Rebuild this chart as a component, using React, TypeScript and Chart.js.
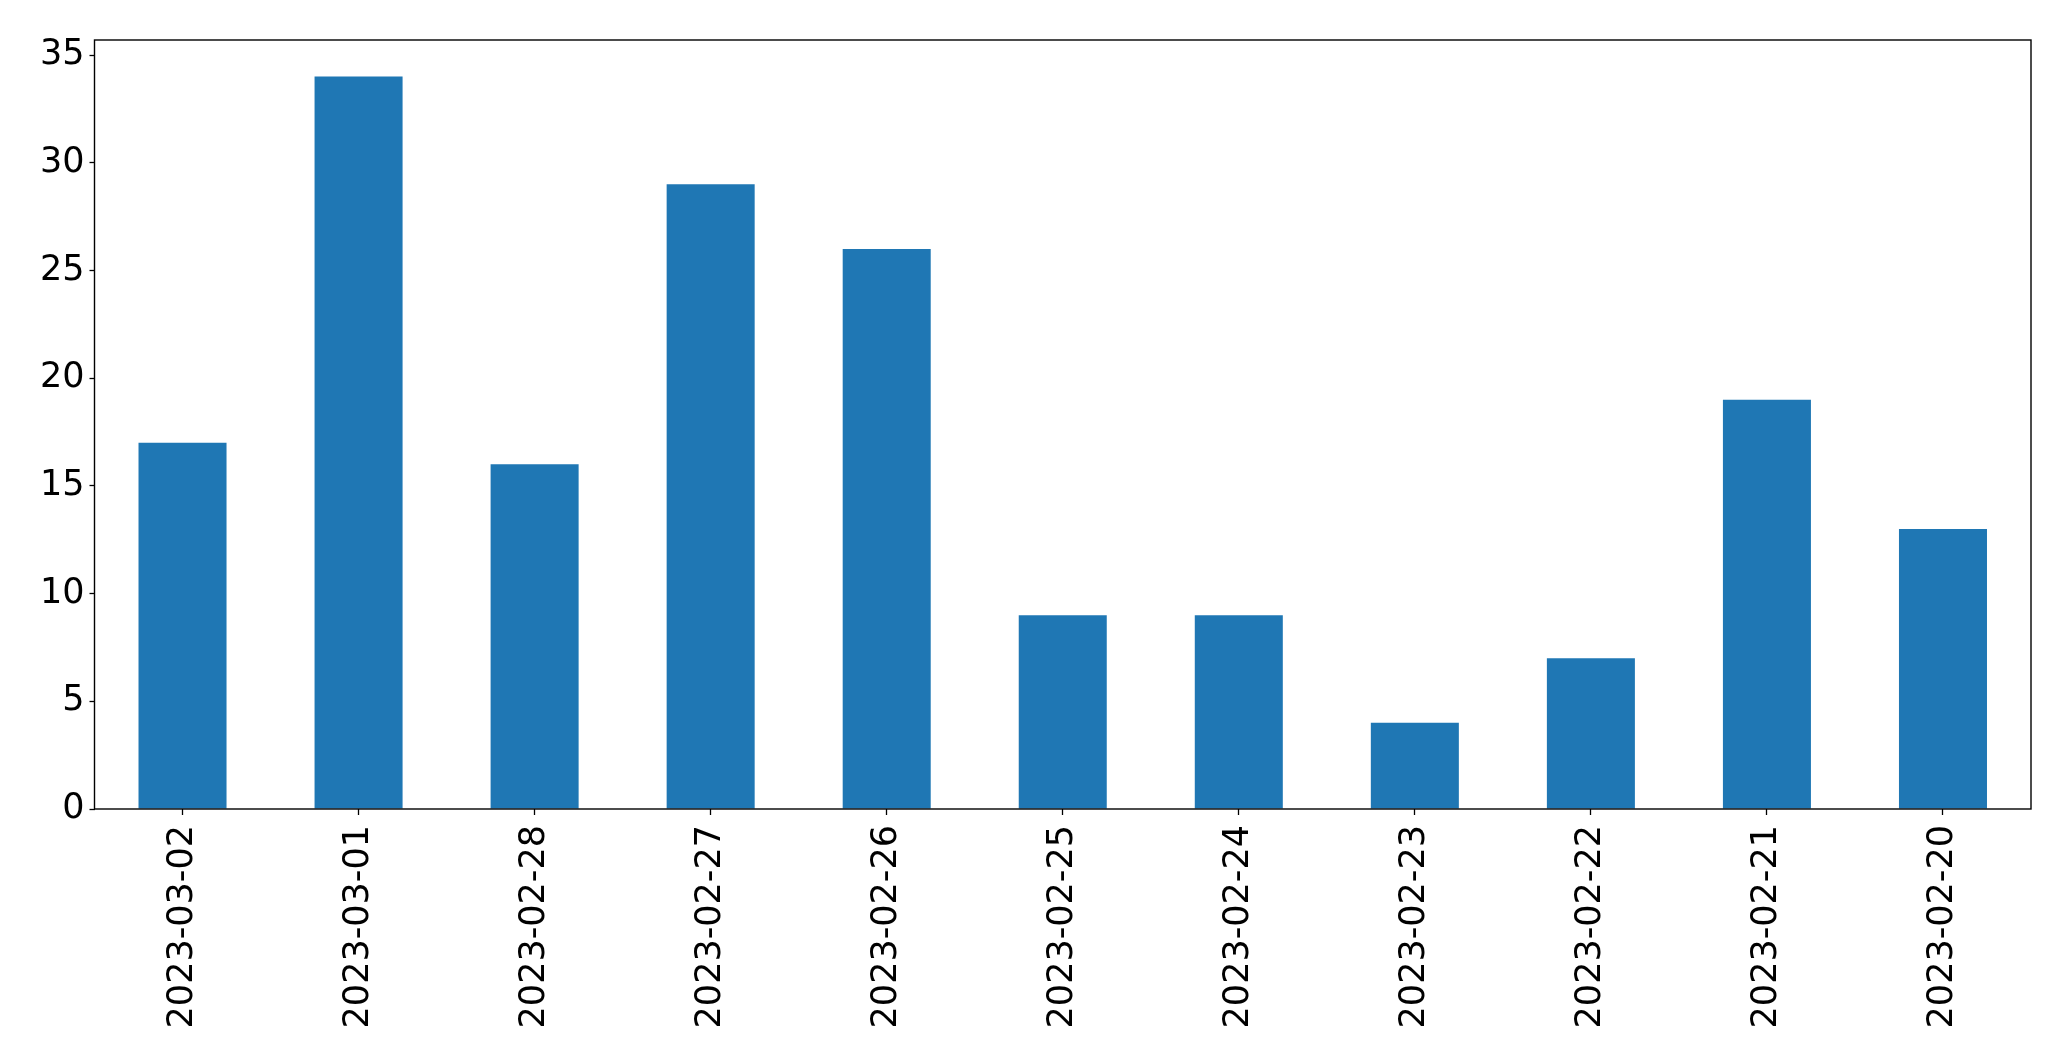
import React, { useEffect, useRef } from "react";
import { Chart, registerables } from "chart.js";

Chart.register(...registerables);

const categories = [
  "2023-03-02", "2023-03-01", "2023-02-28", "2023-02-27", "2023-02-26", "2023-02-25",
  "2023-02-24", "2023-02-23", "2023-02-22", "2023-02-21", "2023-02-20",
];
const values = [17, 34, 16, 29, 26, 9, 9, 4, 7, 19, 13];
const yTicks = [0, 5, 10, 15, 20, 25, 30, 35];
const yMax = 35.7;

const FONT = "'DejaVu Sans', sans-serif";

const framePlugin = {
  id: "frame",
  afterDraw(chart: any) {
    const { ctx, chartArea } = chart;
    ctx.save();
    ctx.strokeStyle = "#000";
    ctx.lineWidth = 1.4;
    ctx.strokeRect(chartArea.left, chartArea.top, chartArea.right - chartArea.left, chartArea.bottom - chartArea.top);
    ctx.restore();
  },
};

export default function App() {
  const ref = useRef<HTMLCanvasElement>(null);
  useEffect(() => {
    const chart = new Chart(ref.current!, {
      type: "bar",
      data: {
        labels: categories,
        datasets: [
          {
            data: values,
            backgroundColor: "#1f77b4",
            borderWidth: 0,
            barPercentage: 0.5,
            categoryPercentage: 1,
          },
        ],
      },
      options: {
        animation: false,
        responsive: false,
        devicePixelRatio: 1,
        layout: { padding: { left: 0, top: 40, right: 40, bottom: 0 } },
        plugins: { legend: { display: false }, tooltip: { enabled: false } },
        scales: {
          x: {
            offset: true,
            grid: { display: true, offset: false, drawOnChartArea: false, drawTicks: true, tickLength: 6, tickColor: "#000", tickWidth: 1.3 },
            border: { display: false },
            ticks: {
              color: "#000",
              font: { family: FONT, size: 35 },
              maxRotation: 90,
              minRotation: 90,
              autoSkip: false,
              padding: 10,
            },
            afterFit: (s: any) => { s.height = 252; },
          },
          y: {
            min: 0,
            max: yMax,
            grid: { display: true, drawOnChartArea: false, drawTicks: true, tickLength: 5, tickColor: "#000", tickWidth: 1.3 },
            border: { display: false },
            ticks: {
              color: "#000",
              font: { family: FONT, size: 35 },
              padding: 5,
            },
            afterBuildTicks: (s: any) => { s.ticks = yTicks.map((v) => ({ value: v })); },
            afterFit: (s: any) => { s.width = 94.5; },
          },
        },
      },
      plugins: [framePlugin],
    });
    return () => chart.destroy();
  }, []);
  return (
    <div style={{ position: "fixed", left: 0, top: 0, width: 2071, height: 1061, background: "#fff" }}>
      <canvas ref={ref} width={2071} height={1061} style={{ width: 2071, height: 1061 }} />
    </div>
  );
}
